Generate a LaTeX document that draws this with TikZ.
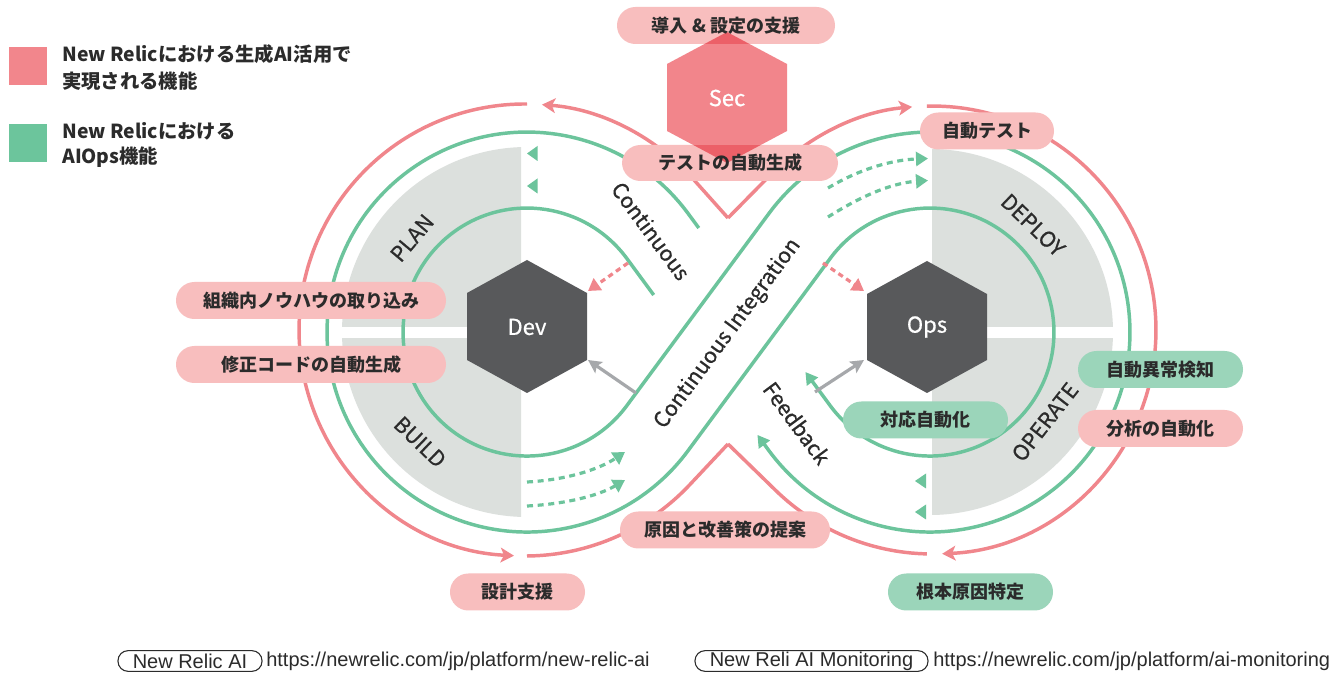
\documentclass[tikz,border=0pt]{standalone}
\usepackage{fontspec}
\setmainfont{Noto Sans CJK JP}
\newfontfamily\medfont{Noto Sans CJK JP}[FakeBold=0.7]
\newfontfamily\urlfont{Liberation Sans}
\usetikzlibrary{arrows.meta}
\definecolor{pinkline}{HTML}{F0868C}
\definecolor{greenline}{HTML}{6CC49C}
\definecolor{grayreg}{HTML}{DCE0DD}
\definecolor{lpink}{HTML}{F8BEBE}
\definecolor{lgreen}{HTML}{9BD5BA}
\definecolor{hexdark}{HTML}{58595B}
\definecolor{secpink}{HTML}{F2858B}
\definecolor{secdark}{HTML}{EC6068}
\definecolor{grayarrow}{HTML}{A6A8AB}
\definecolor{txt}{HTML}{2B2B2B}
\definecolor{legpink}{HTML}{F2868C}
\definecolor{leggreen}{HTML}{6CC59C}
\begin{document}
\begin{tikzpicture}[x=0.75pt,y=-0.75pt,
  pinkpath/.style={draw=pinkline, line width=2.6pt},
  greenpath/.style={draw=greenline, line width=2.6pt},
  pinkhead/.style={-{Stealth[length=10pt,width=11pt,inset=2.5pt]}},
  greenhead/.style={-{Triangle[length=9pt,width=10pt]}},
  dotarrow/.style={draw=greenline, line width=2.4pt, dash pattern=on 4.5pt off 3.5pt, -{Triangle[length=9pt,width=10.5pt]}},
  pinkdash/.style={draw=pinkline, line width=2.4pt, dash pattern=on 4pt off 3pt, -{Triangle[length=9pt,width=10.5pt]}},
  grayarr/.style={draw=grayarrow, line width=2.4pt, -{Stealth[length=10pt,width=10pt,inset=2pt]}},
  pill/.style={rounded corners=13.8pt, minimum height=27.75pt, inner sep=0pt, font=\fontsize{13.5}{16}\selectfont\bfseries, text=txt},
  pinkpill/.style={pill, fill=lpink},
  greenpill/.style={pill, fill=lgreen},
  pilltext/.style={inner sep=0pt, font=\fontsize{13.5}{16}\selectfont\bfseries, text=txt},
  bandtext/.style={font=\medfont\fontsize{16}{19}\selectfont, text=txt, inner sep=0pt},
  hextext/.style={font=\medfont\fontsize{16.5}{19}\selectfont, text=white, inner sep=0pt},
  legendtext/.style={font=\fontsize{14.5}{17}\selectfont\bfseries, text=txt, anchor=west, inner sep=0pt},
  urltext/.style={font=\urlfont\fontsize{15}{17}\selectfont, text=txt, anchor=west, inner sep=0pt},
  linkbox/.style={draw=txt, line width=0.8pt, rounded corners=7.5pt, minimum height=15.5pt, inner sep=0pt, font=\urlfont\fontsize{15}{17}\selectfont, text=txt},
  tri/.style={fill=greenline},
]
\useasboundingbox (0,0) rectangle (1340,673);
\fill[white] (0,0) rectangle (1340,673);

% gray quarter regions
\begin{scope}
  \clip (300,100) rectangle (521,560);
  \fill[grayreg] (527,332) circle[radius=185];
\end{scope}
\begin{scope}
  \clip (932,100) rectangle (1160,560);
  \fill[grayreg] (930,332) circle[radius=183];
\end{scope}
\fill[white] (330,327) rectangle (500,338);
\fill[white] (900,327) rectangle (1130,338);

% pink loop
\draw[pinkpath, pinkhead] (728,218) -- (693.5,179.4) arc[start angle=-41.79, end angle=-85.7, radius=226];
\draw[pinkpath, pinkhead] (527,104) arc[start angle=-89.5, end angle=-267.2, radius=226];
\draw[pinkpath] (527,556) arc[start angle=89.5, end angle=43.2, radius=226] -- (728,444);
\draw[pinkpath, pinkhead] (728,218) -- (772.2,173.1) arc[start angle=-135.53, end angle=-95.1, radius=224];
\draw[pinkpath, pinkhead] (926.9,106.1) arc[start angle=-91.3, end angle=87.4, radius=224];
\draw[pinkpath] (926.9,553.9) arc[start angle=91.3, end angle=134.24, radius=224] -- (728,444);

% green ribbon
\draw[greenpath, greenhead] (653.7,295) -- (626.7,258.3) arc[start angle=-36.5, end angle=-323.5, radius=124]
   -- (769.2,213.1) arc[start angle=-143.5, end angle=143.5, radius=200] -- (757.4,434.9);
\draw[greenpath, greenhead] (698.8,228) -- (687.8,213.1) arc[start angle=-36.5, end angle=-323.5, radius=200]
   -- (830.3,258.3) arc[start angle=-143.5, end angle=143.5, radius=124] -- (805.4,372);

% small triangles
\fill[tri] (527,153.5) -- (537.5,146) -- (537.5,161) -- cycle;
\fill[tri] (527,186) -- (537.5,178.5) -- (537.5,193.5) -- cycle;
\fill[tri] (915,481) -- (926,473.5) -- (926,488.5) -- cycle;
\fill[tri] (915,512) -- (926,504.5) -- (926,519.5) -- cycle;

% dotted arrows
\draw[dotarrow] (527,482) .. controls (565,480) and (598,470) .. (625,452);
\draw[dotarrow] (527,506) .. controls (565,504) and (598,496) .. (625,480);
\draw[dotarrow] (828,188) .. controls (858,170) and (890,160) .. (928,158.5);
\draw[dotarrow] (828,217) .. controls (858,198) and (890,183) .. (928,180.5);

% hexagons
\fill[hexdark] (527,260) -- (587,293) -- (587,360) -- (527,393) -- (467,360) -- (467,293) -- cycle;
\node[hextext] (dev) at (527,327) {Dev};
\fill[hexdark] (927,261) -- (987,294) -- (987,360) -- (927,393) -- (867,360) -- (867,294) -- cycle;
\node[hextext] (ops) at (927,327) {Ops};

% arrows into hexagons
\coordinate (pdA) at (628,263);
\coordinate (pdAt) at (588,291);
\coordinate (pdB) at (823,263);
\coordinate (pdBt) at (864,291);
\coordinate (gaA) at (636,393);
\coordinate (gaAt) at (588,360);
\coordinate (gaB) at (815,392);
\coordinate (gaBt) at (864,360);
\draw[pinkdash] (pdA) -- (pdAt);
\draw[pinkdash] (pdB) -- (pdBt);
\draw[grayarr] (gaA) -- (gaAt);
\draw[grayarr] (gaB) -- (gaBt);

% band texts
\node[bandtext, rotate=-53.5] (tcont) at (651,231) {Continuous};
\node[bandtext, rotate=53.5] (tci) at (728,334) {Continuous Integration};
\node[bandtext, rotate=-53.5] (tfb) at (797,423) {Feedback};
\node[bandtext, rotate=50] (tplan) at (412,238) {PLAN};
\node[bandtext, rotate=-44] (tbuild) at (420,442) {BUILD};
\node[bandtext, rotate=-44] (tdeploy) at (1033,225) {DEPLOY};
\node[bandtext, rotate=52] (toperate) at (1045,422) {OPERATE};

% Sec hexagon and overlapping labels
\fill[secpink] (727,32) -- (787,64) -- (787,131) -- (727,163) -- (667,131) -- (667,64) -- cycle;
\fill[lpink, rounded corners=13.8pt] (617,7) rectangle (835,44);
\fill[lpink, rounded corners=13.8pt] (622,145) rectangle (838,181);
\begin{scope}
  \clip (727,32) -- (787,64) -- (787,131) -- (727,163) -- (667,131) -- (667,64) -- cycle;
  \fill[secdark, rounded corners=13.8pt] (617,7) rectangle (835,44);
  \fill[secdark, rounded corners=13.8pt] (622,145) rectangle (838,181);
\end{scope}
\node[pilltext] (lsetup) at (726,25.5) {導入 \& 設定の支援};
\node[pilltext] (ltestgen) at (730,163) {テストの自動生成};
\node[hextext] (sec) at (727,98) {Sec};

% labels
\node[pinkpill, minimum width=100.5pt] (autot) at (987,131) {自動テスト};
\node[pinkpill, minimum width=202.5pt] (kn) at (311,300.5) {組織内ノウハウの取り込み};
\node[pinkpill, minimum width=202.5pt] (fix) at (311,364.5) {修正コードの自動生成};
\node[pinkpill, minimum width=157.5pt] (cause) at (725,530) {原因と改善策の提案};
\node[pinkpill, minimum width=101.25pt] (design) at (517.5,592) {設計支援};
\node[greenpill, minimum width=123.75pt] (root) at (970.5,592) {根本原因特定};
\node[greenpill, minimum width=123.75pt] (anom) at (1160.5,369.5) {自動異常検知};
\node[pinkpill, minimum width=123.75pt] (anal) at (1160.5,428.5) {分析の自動化};
\node[greenpill, minimum width=123.75pt] (resp) at (925.5,420) {対応自動化};

% legend
\fill[legpink] (9,47) rectangle (47,85);
\fill[leggreen] (9,124) rectangle (47,162);
\node[legendtext] (lg1) at (62,54) {New Relicにおける生成AI活用で};
\node[legendtext] (lg2) at (62,81) {実現される機能};
\node[legendtext] (lg3) at (62,131) {New Relicにおける};
\node[legendtext] (lg4) at (62,157) {AIOps機能};

% bottom links
\node[linkbox, minimum width=108pt] (nra) at (190,661) {New Relic AI};
\node[urltext] (url1) at (266,661) {https://newrelic.com/jp/platform/new-relic-ai};
\node[linkbox, minimum width=174.75pt] (nram) at (811.5,661) {New Reli AI Monitoring};
\node[urltext] (url2) at (933,661) {https://newrelic.com/jp/platform/ai-monitoring};
\end{tikzpicture}
\end{document}
